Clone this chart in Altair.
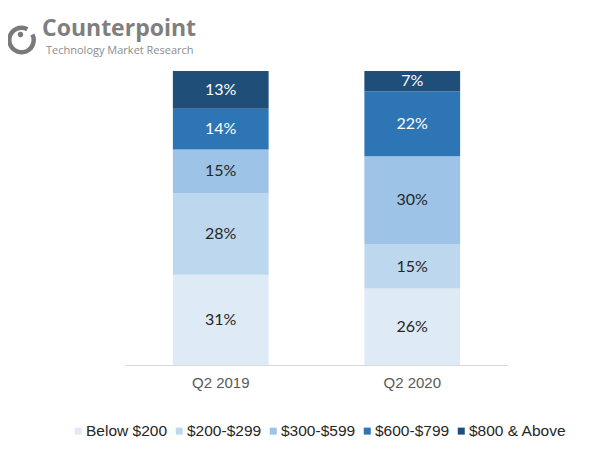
import altair as alt
import pandas as pd

quarters = ["Q2 2019", "Q2 2020"]
segments = ["Below $200", "$200-$299", "$300-$599", "$600-$799", "$800 & Above"]
share_2019 = [31, 28, 15, 14, 13]
share_2020 = [26, 15, 30, 22, 7]
colors = ["#deebf7", "#bdd7ee", "#9dc3e6", "#2e75b6", "#1f4e79"]

rows = []
for q, vals in zip(quarters, [share_2019, share_2020]):
    for i, (s, v) in enumerate(zip(segments, vals)):
        rows.append({"quarter": q, "segment": s, "order": i, "share": v, "label": f"{v}%"})
df = pd.DataFrame(rows)

base = alt.Chart(df).transform_stack(
    stack="share", groupby=["quarter"], as_=["y0", "y1"], offset="normalize",
    sort=[alt.SortField("order", order="ascending")]
).transform_calculate(mid="(datum.y0 + datum.y1) / 2")

x_enc = alt.X(
    "quarter:N", sort=quarters,
    scale=alt.Scale(paddingInner=0.5, paddingOuter=0.25),
    axis=alt.Axis(title=None, labelAngle=0, ticks=False, domainColor="#d9d9d9",
                  domainWidth=1, labelFont="Liberation Sans", labelFontSize=15,
                  labelColor="#595959", labelPadding=10, grid=False),
)

bars = base.mark_bar().encode(
    x=x_enc,
    y=alt.Y("y0:Q", scale=alt.Scale(domain=[0, 1]), axis=None),
    y2="y1:Q",
    color=alt.Color(
        "segment:N",
        scale=alt.Scale(domain=segments, range=colors),
        legend=alt.Legend(title=None, orient="none", legendX=-55.5, legendY=352,
                          direction="horizontal", symbolType="square", symbolSize=49,
                          symbolStrokeWidth=0, symbolOffset=1, labelFont="Liberation Sans",
                          labelFontSize=15.5, labelColor="#262626", labelOffset=0,
                          columnPadding=3, padding=0),
    ),
)

labels = base.mark_text(font="Lato", fontSize=16).encode(
    x=x_enc,
    y=alt.Y("mid:Q", scale=alt.Scale(domain=[0, 1]), axis=None),
    text="label:N",
    color=alt.condition(alt.datum.order >= 3, alt.value("white"), alt.value("#262626")),
)

one = pd.DataFrame({"k": [0]})
logo_arc = alt.Chart(one).mark_arc(theta=1.1, theta2=6.78, radius=14.5, radius2=10,
                                   color="#7a7a7a").encode(
    x=alt.value(-103.5), y=alt.value(-31))
logo_dot = alt.Chart(one).mark_point(filled=True, size=28, color="#7a7a7a",
                                     shape="circle", opacity=1).encode(
    x=alt.value(-104.5), y=alt.value(-36.5))
logo_title = alt.Chart(one).mark_text(text="Counterpoint", font="Open Sans",
                                      fontWeight="bold", fontSize=23, color="#7f7f7f",
                                      align="left", baseline="alphabetic").encode(
    x=alt.value(-83), y=alt.value(-35))
logo_sub = alt.Chart(one).mark_text(text="Technology Market Research", font="Open Sans",
                                    fontSize=11, color="#8c8c8c",
                                    align="left", baseline="alphabetic").encode(
    x=alt.value(-79), y=alt.value(-17))

chart = alt.layer(bars, labels, logo_arc, logo_dot, logo_title, logo_sub).properties(
    width=383, height=294,
    padding={"left": 117, "top": 63, "right": 99, "bottom": 88},
    autosize=alt.AutoSizeParams(type="none"),
).configure_view(stroke=None)

chart.save("out.html", embed_options={"renderer": "svg", "actions": False})
